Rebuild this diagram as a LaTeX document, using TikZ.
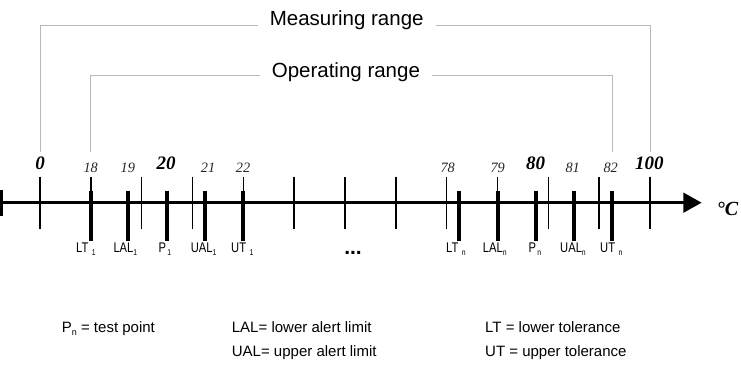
\documentclass[tikz,border=0pt]{standalone}
\usepackage{fontspec}
\setmainfont{Liberation Serif}
\setsansfont{Liberation Sans}
\newfontfamily\narrowsans[FakeStretch=0.8]{Liberation Sans}
\usetikzlibrary{arrows.meta}
\newcommand{\axlab}[3]{#1\hspace{#3}\raisebox{-3.6pt}{\fontsize{8.5}{9}\selectfont #2}}
\begin{document}
\begin{tikzpicture}[x=1pt,y=-1pt,
  thintick/.style={line width=1.4pt},
  thickbar/.style={line width=3.8pt},
  rangeline/.style={draw=black!28, line width=1pt},
  numsmall/.style={font=\fontsize{14.3}{14}\selectfont\itshape, anchor=base, inner sep=0pt, text=black!85},
  numbig/.style={font=\fontsize{19}{19}\selectfont\bfseries\itshape, anchor=base, inner sep=0pt},
  lbl/.style={font=\narrowsans\fontsize{14}{14}\selectfont, anchor=base west, inner sep=0pt},
  legend/.style={font=\sffamily\fontsize{15}{15}\selectfont, anchor=base west, inner sep=0pt},
  rangelbl/.style={font=\sffamily\fontsize{20.5}{21}\selectfont, anchor=base, inner ysep=0pt, inner xsep=12pt},
  axisline/.style={line width=3.5pt, -{Triangle[length=18.4pt,width=19.4pt]}}
]
\useasboundingbox (0,0) rectangle (741,366);
\fill[white] (0,0) rectangle (741,366);

% range brackets
\node[rangelbl] (mr) at (346.7,26) {Measuring range};
\node[rangelbl] (orng) at (345.9,77.3) {Operating range};
\coordinate (mL) at (40,152.5);
\coordinate (mR) at (650.3,152.5);
\coordinate (oL) at (90.5,152.5);
\coordinate (oR) at (612.3,152.5);
\draw[rangeline] (mL) |- ([yshift=0.7pt]mr.base west);
\draw[rangeline] (mR) |- ([yshift=0.7pt]mr.base east);
\draw[rangeline] (oL) |- ([yshift=1.3pt]orng.base west);
\draw[rangeline] (oR) |- ([yshift=1.3pt]orng.base east);

% thin ticks
\foreach \k in {0,...,12}{
  \draw[thintick] ({40+50.83*\k},176.7) -- ({40+50.83*\k},229);
}
% thick bars
\foreach \x in {90.7,128.3,166.7,205,243.3,459,497.7,535.7,574,612.3}{
  \draw[thickbar] (\x,190.7) -- (\x,240.7);
}
% axis
\draw[line width=3pt] (1.5,190) -- (1.5,216);
\coordinate (ax0) at (0,202.7);
\coordinate (ax1) at (701.7,202.7);
\draw[axisline] (ax0) -- (ax1);
\node[anchor=base west, inner sep=0pt, font=\fontsize{20}{20}\selectfont\bfseries\itshape] (unit) at (716.7,215) {°C};

% numbers
\node[numbig] (n0) at (40,170) {0};
\node[numsmall] (n18) at (90.7,172.5) {18};
\node[numsmall] (n19) at (127.8,172.5) {19};
\node[numbig] (n20) at (166,170) {20};
\node[numsmall] (n21) at (208,172.5) {21};
\node[numsmall] (n22) at (243,172.5) {22};
\node[numsmall] (n78) at (447.7,172.5) {78};
\node[numsmall] (n79) at (497.7,172.5) {79};
\node[numbig] (n80) at (535.7,170) {80};
\node[numsmall] (n81) at (572.7,172.5) {81};
\node[numsmall] (n82) at (610.7,172.5) {82};
\node[numbig] (n100) at (649.3,170) {100};

% bar labels
\node[lbl] (lt1) at (76,252.3) {\axlab{LT}{1}{3.5pt}};
\node[lbl] (lal1) at (113.3,252.3) {\axlab{LAL}{1}{0pt}};
\node[lbl] (p1) at (158.3,252.3) {\axlab{P}{1}{1.5pt}};
\node[lbl] (ual1) at (190.7,252.3) {\axlab{UAL}{1}{0pt}};
\node[lbl] (ut1) at (231,252.3) {\axlab{UT}{1}{3.5pt}};
\node[lbl] (ltn) at (446,252.3) {\axlab{LT}{n}{3.5pt}};
\node[lbl] (laln) at (482.7,252.3) {\axlab{LAL}{n}{0pt}};
\node[lbl] (pn) at (528.3,252.3) {\axlab{P}{n}{1.5pt}};
\node[lbl] (ualn) at (560,252.3) {\axlab{UAL}{n}{0pt}};
\node[lbl] (utn) at (600,252.3) {\axlab{UT}{n}{3.5pt}};
\node[anchor=base, inner sep=0pt, font=\sffamily\bfseries\fontsize{21}{21}\selectfont] (dots) at (353,254.5) {...};

% legend
\node[legend] (lg1) at (61.7,332) {P\raisebox{-3pt}{\fontsize{9}{9}\selectfont n} = test point};
\node[legend] (lg2) at (231.7,332) {LAL= lower alert limit};
\node[legend] (lg3) at (231.7,356.5) {UAL= upper alert limit};
\node[legend] (lg4) at (485,332) {LT = lower tolerance};
\node[legend] (lg5) at (485,356.5) {UT = upper tolerance};
\end{tikzpicture}
\end{document}
